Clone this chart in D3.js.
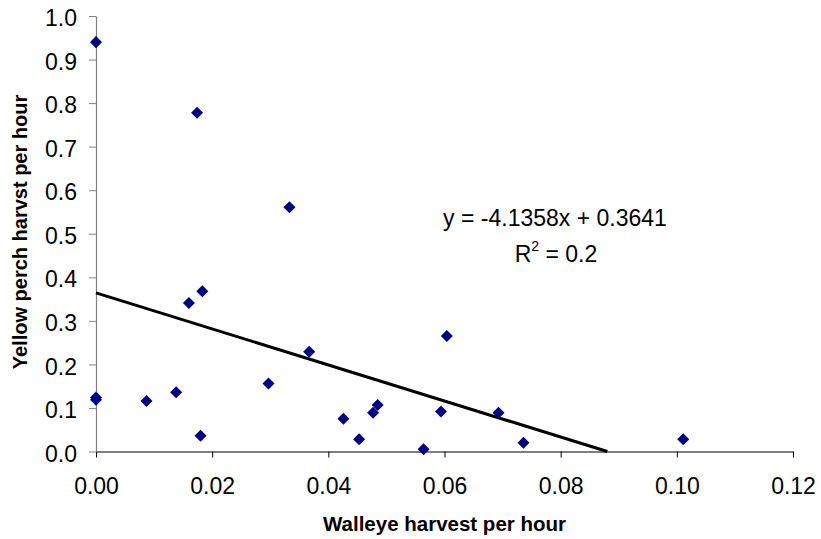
<!DOCTYPE html>
<html>
<head>
<meta charset="utf-8">
<script src="https://cdn.jsdelivr.net/npm/d3@7"></script>
<style>
    body { margin: 0; background: #fff; }
    svg { display: block; font-family: "Liberation Sans", Arial, sans-serif; }
</style>
</head>
<body>
<svg id="chart"></svg>
<script>
// Walleye harvest per hour (x) and yellow perch harvest per hour (y), one entry per survey
const walleye_values = [0.0000, 0.0000, 0.0000, 0.0087, 0.0138, 0.0160, 0.0174, 0.0180, 0.0183,
    0.0297, 0.0333, 0.0367, 0.0426, 0.0453, 0.0477, 0.0485, 0.0564, 0.0594, 0.0604, 0.0693,
    0.0736, 0.1011];
const perch_values = [0.940, 0.124, 0.119, 0.116, 0.136, 0.341, 0.778, 0.036, 0.368,
    0.156, 0.561, 0.229, 0.075, 0.028, 0.089, 0.107, 0.005, 0.092, 0.265, 0.089,
    0.020, 0.028];

// Linear trendline as reported on the chart
const trend_slope = -4.1358;
const trend_intercept = 0.3641;
const trend_r2 = 0.2;

// Axis ticks
const x_ticks = [0, 0.02, 0.04, 0.06, 0.08, 0.10, 0.12];
const y_ticks = [0, 0.1, 0.2, 0.3, 0.4, 0.5, 0.6, 0.7, 0.8, 0.9, 1.0];

// Chart dimensions
const width = 821, height = 539;
const margins = { top: 16, right: 28, bottom: 87, left: 96 };

const x_scale = d3.scaleLinear()
    .domain([0, 0.12])
    .range([margins.left, width - margins.right]);
const y_scale = d3.scaleLinear()
    .domain([0, 1.0])
    .range([height - margins.bottom - 0.5, margins.top]);

const svg = d3.select("#chart")
    .attr("width", width)
    .attr("height", height);

// X axis
const x_axis = svg.append("g")
    .attr("transform", "translate(0," + y_scale(0) + ")")
    .call(d3.axisBottom(x_scale).tickValues(x_ticks).tickFormat(d3.format(".2f")).tickSize(6).tickSizeOuter(0));
x_axis.select(".domain").attr("stroke", "#000").attr("stroke-width", 1.2);
x_axis.selectAll(".tick line").attr("stroke", "#000");
x_axis.selectAll(".tick text")
    .attr("font-size", 23)
    .attr("fill", "#000")
    .attr("dy", 0)
    .attr("y", 42);

// Y axis
const y_axis = svg.append("g")
    .attr("transform", "translate(" + margins.left + ",0)")
    .call(d3.axisLeft(y_scale).tickValues(y_ticks).tickFormat(d3.format(".1f")).tickSize(7).tickSizeOuter(0));
y_axis.select(".domain").attr("stroke", "#808080").attr("stroke-width", 1.2);
y_axis.selectAll(".tick line").attr("stroke", "#808080");
y_axis.selectAll(".tick text")
    .attr("font-size", 23)
    .attr("fill", "#000")
    .attr("x", -19)
    .attr("dy", "0.42em");

// Trendline, from x = 0 to where it meets y = 0
const trend_end = -trend_intercept / trend_slope;
const trend_points = [0, trend_end].map(function (x) { return [x, trend_slope * x + trend_intercept]; });
svg.append("path")
    .datum(trend_points)
    .attr("fill", "none")
    .attr("stroke", "#000")
    .attr("stroke-width", 3)
    .attr("d", d3.line()
        .x(function (d) { return x_scale(d[0]); })
        .y(function (d) { return y_scale(d[1]); }));

// Diamond markers for every survey
const diamond = d3.symbol().type(d3.symbolDiamond2).size(92);
svg.append("g")
    .selectAll("path")
    .data(walleye_values.map(function (w, i) { return [w, perch_values[i]]; }))
    .enter().append("path")
    .attr("d", diamond)
    .attr("transform", function (d) { return "translate(" + x_scale(d[0]) + "," + y_scale(d[1]) + ")"; })
    .attr("fill", "#000080");

// Trendline equation and R squared
svg.append("text")
    .attr("x", 555)
    .attr("y", 226)
    .attr("text-anchor", "middle")
    .attr("font-size", 23)
    .text("y = " + trend_slope + "x + " + trend_intercept);
const r2_text = svg.append("text")
    .attr("x", 556)
    .attr("y", 262)
    .attr("text-anchor", "middle")
    .attr("font-size", 23);
r2_text.append("tspan").text("R");
r2_text.append("tspan").attr("font-size", 14).attr("dy", -11).text("2");
r2_text.append("tspan").attr("dy", 11).text(" = " + trend_r2);

// Axis titles
svg.append("text")
    .attr("x", (margins.left + width - margins.right) / 2)
    .attr("y", 531)
    .attr("text-anchor", "middle")
    .attr("font-size", 20.5)
    .attr("font-weight", "bold")
    .text("Walleye harvest per hour");
svg.append("text")
    .attr("transform", "translate(27,232) rotate(-90)")
    .attr("text-anchor", "middle")
    .attr("font-size", 20)
    .attr("font-weight", "bold")
    .text("Yellow perch harvst per hour");
</script>
</body>
</html>
